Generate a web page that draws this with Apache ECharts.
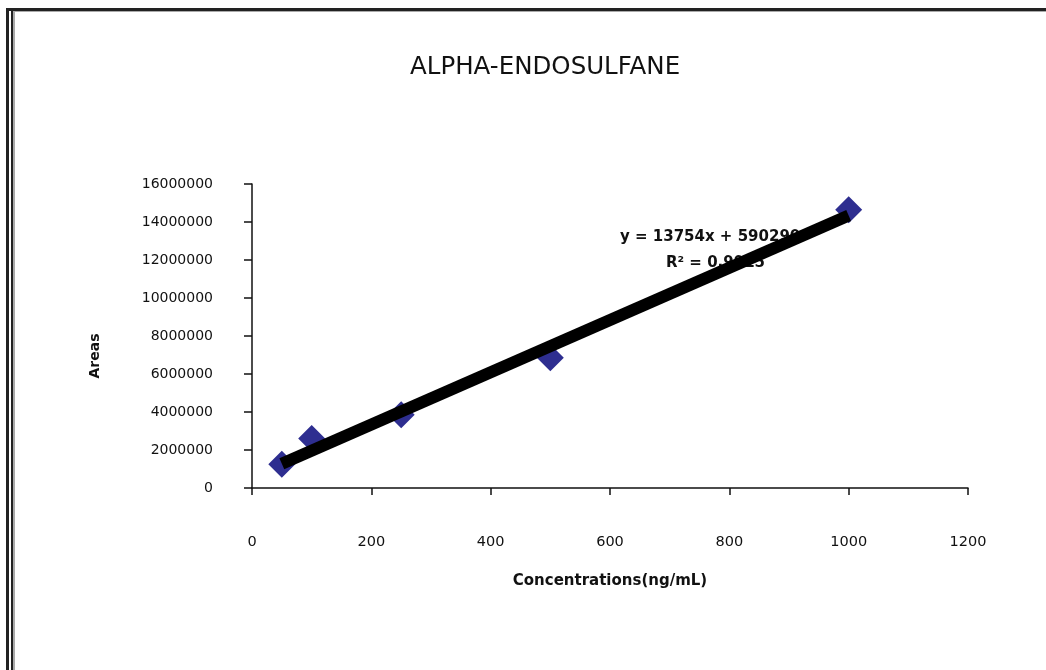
<!DOCTYPE html>
<html>
<head>
<meta charset="utf-8">
<script src="https://cdn.jsdelivr.net/npm/echarts@6/dist/echarts.min.js"></script>
<style>
html,body{margin:0;padding:0;background:#fff;}
#main{width:1046px;height:670px;}
</style>
</head>
<body>
<div id="main"></div>
<script>
// ---- data ----
var titleText = 'ALPHA-ENDOSULFANE';
var xAxisName = 'Concentrations(ng/mL)';
var yAxisName = 'Areas';
var concentrations = [50, 100, 250, 500, 1000];
var areas = [1250000, 2600000, 3850000, 6850000, 14650000];
var trendSlope = 13754;
var trendIntercept = 590290;
var trendRange = [50, 1000];
var equationText = 'y = 13754x + 590290';
var r2Text = 'R\u00B2 = 0,9915';
var xTicks = [0, 200, 400, 600, 800, 1000, 1200];
var yTicks = [0, 2000000, 4000000, 6000000, 8000000, 10000000, 12000000, 14000000, 16000000];

var scatterData = concentrations.map(function (c, i) { return [c, areas[i]]; });
var trendData = trendRange.map(function (x) { return [x, trendSlope * x + trendIntercept]; });

var FONT = 'DejaVu Sans';
var chart = echarts.init(document.getElementById('main'), null, {renderer: 'canvas'});

var option = {
  backgroundColor: '#ffffff',
  animation: false,
  title: {
    text: titleText,
    left: 405,
    top: 50,
    textStyle: {fontFamily: FONT, fontSize: 24.5, fontWeight: 'normal', color: '#111'}
  },
  grid: {left: 252, right: 78, top: 184, bottom: 182, containLabel: false},
  xAxis: {
    type: 'value',
    min: xTicks[0],
    max: xTicks[xTicks.length - 1],
    interval: 200,
    name: xAxisName,
    nameLocation: 'middle',
    nameGap: 86,
    nameTextStyle: {fontFamily: FONT, fontSize: 15, fontWeight: 'bold', color: '#111', verticalAlign: 'top'},
    axisLine: {show: true, lineStyle: {color: '#111', width: 1.5}},
    axisTick: {show: true, inside: false, length: 7, lineStyle: {color: '#111', width: 1.5}},
    axisLabel: {margin: 47, fontFamily: FONT, fontSize: 14.5, color: '#111', verticalAlign: 'top',
      formatter: function (v) { return String(v); }},
    splitLine: {show: false}
  },
  yAxis: {
    type: 'value',
    min: yTicks[0],
    max: yTicks[yTicks.length - 1],
    interval: 2000000,
    name: yAxisName,
    nameLocation: 'middle',
    nameGap: 150,
    nameRotate: 90,
    nameTextStyle: {fontFamily: FONT, fontSize: 14, fontWeight: 'bold', color: '#111', padding: [0, 40, 0, 0]},
    axisLine: {show: true, lineStyle: {color: '#111', width: 1.5}},
    axisTick: {show: true, inside: false, length: 8, lineStyle: {color: '#111', width: 1.5}},
    axisLabel: {margin: 39, fontFamily: FONT, fontSize: 14, color: '#111',
      formatter: function (v) { return String(v); }},
    splitLine: {show: false}
  },
  graphic: [
    {type: 'rect', shape: {x: 6, y: 8, width: 3, height: 670}, style: {fill: '#222'}, z: 100},
    {type: 'rect', shape: {x: 6, y: 8, width: 1046, height: 3}, style: {fill: '#222'}, z: 100},
    {type: 'rect', shape: {x: 11, y: 8, width: 2, height: 670}, style: {fill: '#222'}, z: 100},
    {type: 'rect', shape: {x: 13, y: 11, width: 2, height: 670}, style: {fill: '#aaa'}, z: 100},
    {type: 'rect', shape: {x: 13, y: 11, width: 1046, height: 1}, style: {fill: '#aaa'}, z: 100},
    {type: 'text', left: 620, top: 230, z: 0,
      style: {text: equationText, fontFamily: FONT, fontSize: 15, fontWeight: 'bold', fill: '#111'}},
    {type: 'text', left: 666, top: 256, z: 0,
      style: {text: r2Text, fontFamily: FONT, fontSize: 15, fontWeight: 'bold', fill: '#111'}}
  ],
  series: [
    {
      type: 'scatter',
      data: scatterData,
      symbol: 'diamond',
      symbolSize: [27, 27],
      itemStyle: {color: '#2e2e90', opacity: 1},
      z: 3
    },
    {
      type: 'line',
      data: trendData,
      showSymbol: false,
      symbol: 'none',
      lineStyle: {color: '#000', width: 12},
      zlevel: 1,
      z: 4
    }
  ]
};
chart.setOption(option);
</script>
</body>
</html>
